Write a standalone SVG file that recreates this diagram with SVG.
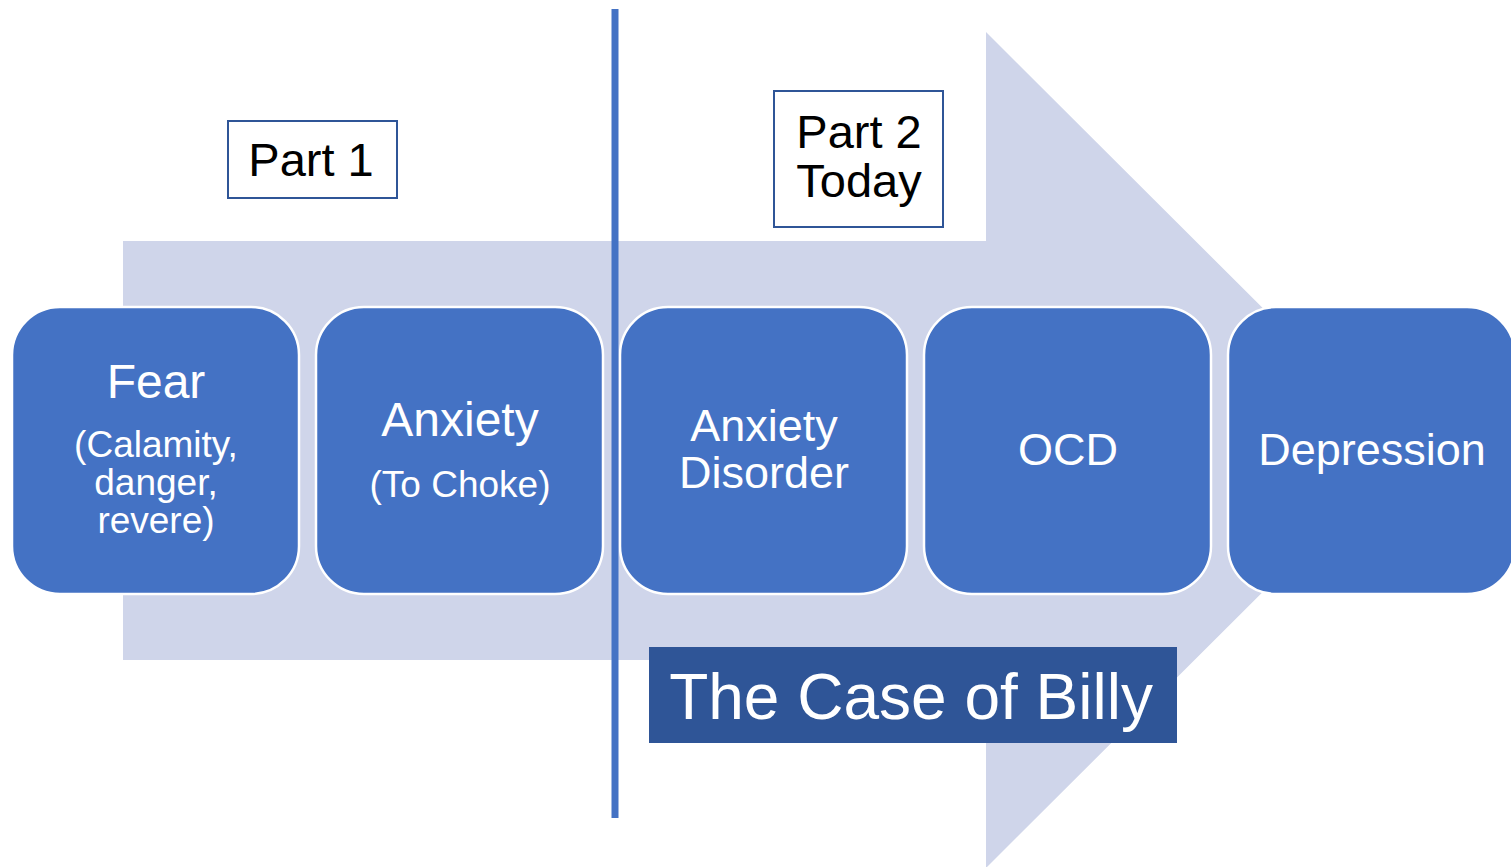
<svg xmlns="http://www.w3.org/2000/svg" width="1511" height="867" viewBox="0 0 1511 867">
  <style>
    .step { fill: #4472C4; stroke: #FFFFFF; stroke-width: 2.5; }
    .label { font-family: "Liberation Sans", Arial, sans-serif; fill: #FFFFFF; text-anchor: middle; }
    .big { font-size: 45px; }
    .head { font-size: 48px; }
    .small { font-size: 37px; }
    .tag { fill: #FFFFFF; stroke: #2F5597; stroke-width: 2; }
    .tagtext { font-family: "Liberation Sans", Arial, sans-serif; font-size: 47px; fill: #000000; text-anchor: middle; }
  </style>

  <rect width="1511" height="867" fill="#FFFFFF"/>

  <!-- background process arrow -->
  <g id="process-arrow">
    <polygon points="123,241 986,241 986,32 1405,450 986,868 986,660 123,660" fill="#CFD5EA"/>
  </g>

  <!-- steps -->
  <g id="node-fear">
    <rect class="step" x="12" y="307" width="287" height="287" rx="48" ry="48"/>
    <text class="label head" x="156" y="398">Fear</text>
    <text class="label small" x="156" y="457">(Calamity,</text>
    <text class="label small" x="156" y="495">danger,</text>
    <text class="label small" x="156" y="533">revere)</text>
  </g>
  <g id="node-anxiety">
    <rect class="step" x="316" y="307" width="287" height="287" rx="48" ry="48"/>
    <text class="label head" x="460" y="436">Anxiety</text>
    <text class="label small" x="460" y="497">(To Choke)</text>
  </g>
  <g id="node-anxiety-disorder">
    <rect class="step" x="620" y="307" width="287" height="287" rx="48" ry="48"/>
    <text class="label big" x="764" y="441">Anxiety</text>
    <text class="label big" x="764" y="488">Disorder</text>
  </g>
  <g id="node-ocd">
    <rect class="step" x="924" y="307" width="287" height="287" rx="48" ry="48"/>
    <text class="label big" x="1068" y="465">OCD</text>
  </g>
  <g id="node-depression">
    <rect class="step" x="1228" y="307" width="287" height="287" rx="48" ry="48"/>
    <text class="label big" x="1372" y="465">Depression</text>
  </g>

  <!-- divider between the two parts -->
  <g id="connectors">
    <line x1="615" y1="9" x2="615" y2="818" stroke="#4472C4" stroke-width="7"/>
  </g>

  <!-- part labels -->
  <g id="label-part1">
    <rect class="tag" x="228" y="121" width="169" height="77"/>
    <text class="tagtext" x="311" y="176">Part 1</text>
  </g>
  <g id="label-part2">
    <rect class="tag" x="774" y="91" width="169" height="136"/>
    <text class="tagtext" x="859" y="148">Part 2</text>
    <text class="tagtext" x="859" y="197">Today</text>
  </g>

  <!-- title -->
  <g id="title">
    <rect x="649" y="647" width="528" height="96" fill="#2F5597"/>
    <text class="label" x="911" y="719" font-size="64">The Case of Billy</text>
  </g>
</svg>
